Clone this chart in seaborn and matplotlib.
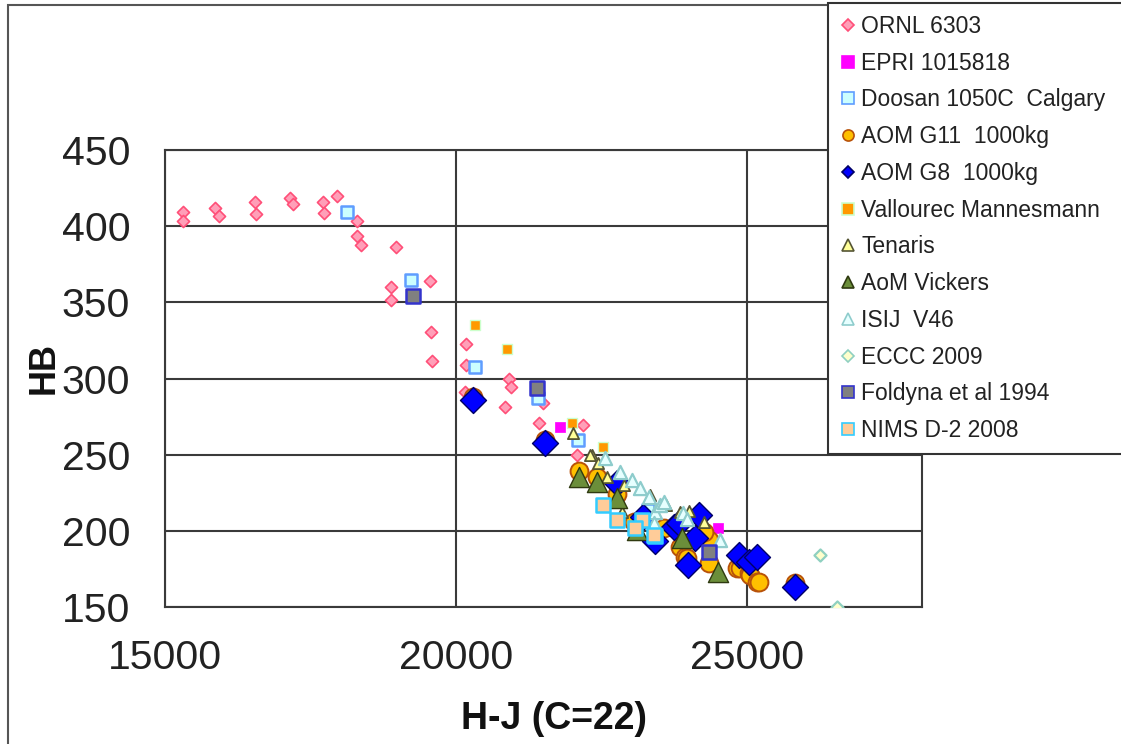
import matplotlib
matplotlib.use("Agg")
import matplotlib.pyplot as plt
import seaborn as sns
import pandas as pd
from matplotlib.lines import Line2D
from matplotlib.patches import Rectangle

sns.set_theme(style="white")
plt.rcParams["font.family"] = ["Liberation Sans", "DejaVu Sans"]

# ---------------- data (H-J parameter, Brinell hardness) ----------------
ornl_hj = [15314, 15314, 15859, 15928, 16546, 16563, 17148, 17194, 17709, 17732,
           17960, 18304, 18293, 18362, 18969, 19553, 18877, 18877, 19565, 19582,
           20171, 20171, 20154, 20910, 20939, 20841, 21497, 21425, 22176, 22070]
ornl_hb = [409.5, 403.4, 411.7, 406.7, 416.0, 408.0, 418.3, 414.5, 416.0, 408.5,
           419.8, 403.7, 393.8, 387.7, 386.5, 364.2, 359.9, 351.6, 330.3, 311.5,
           322.6, 308.8, 291.3, 300.0, 294.2, 281.5, 283.7, 270.5, 269.4, 249.7]

epri_hj = [21786, 24505]
epri_hb = [268.4, 201.6]

doosan_hj = [18122, 19221, 20326, 21411, 22101, 23300]
doosan_hb = [409.5, 364.6, 307.7, 287.0, 259.7, 214.0]

g11_hj = [20297, 21528, 22118, 22427, 22760, 23050, 23561, 23848, 23930, 23963,
          24334, 24345, 24248, 24822, 24880, 25021, 25050, 25165, 25193, 25823]
g11_hb = [288.0, 259.5, 239.0, 235.5, 224.0, 206.0, 201.6, 189.4, 183.0, 181.9,
          178.6, 194.0, 199.5, 175.4, 175.4, 172.0, 171.0, 166.7, 166.7, 165.8]

g8_hj = [20297, 21528, 22760, 23217, 23418, 23747, 23830, 24162, 24105, 23990,
         24850, 25021, 25165, 25823]
g8_hb = [285.8, 257.4, 231.3, 209.3, 193.4, 202.7, 205.0, 210.4, 195.0, 177.5,
         184.0, 179.8, 183.0, 163.4]

vall_hj = [20326, 20881, 21987, 22530]
vall_hb = [335.0, 319.3, 270.5, 255.3]

tenaris_hj = [22004, 22331, 22302, 22444, 22588, 22874, 22846, 23333, 23600, 23848,
              24000, 24248]
tenaris_hb = [264.5, 249.7, 249.7, 244.3, 235.6, 230.0, 212.6, 223.5, 217.0, 212.6,
              213.0, 206.0]

vickers_hj = [22118, 22427, 22760, 23100, 23877, 24505]
vickers_hb = [235.6, 232.3, 221.3, 200.5, 195.0, 173.2]

isij_hj = [22559, 22817, 23018, 23161, 23304, 23418, 23504, 23561, 23390, 23904,
           23963, 24536]
isij_hb = [247.6, 238.9, 233.3, 227.9, 222.4, 212.6, 217.0, 219.2, 205.0, 211.5,
           208.0, 194.0]

eccc_hj = [26253, 26540]
eccc_hb = [184.0, 150.2]

foldyna_hj = [19255, 21394, 24334]
foldyna_hb = [354.1, 293.5, 186.3]

nims_hj = [22530, 22770, 23190, 23075, 23418, 23390]
nims_hb = [217.0, 207.4, 207.0, 201.6, 196.5, 197.2]

labels = ["ORNL 6303", "EPRI 1015818", "Doosan 1050C  Calgary", "AOM G11  1000kg",
          "AOM G8  1000kg", "Vallourec Mannesmann", "Tenaris", "AoM Vickers",
          "ISIJ  V46", "ECCC 2009", "Foldyna et al 1994", "NIMS D-2 2008"]
x_ticks = [15000, 20000, 25000]
y_ticks = [150, 200, 250, 300, 350, 400, 450]

# ---------------- styles ----------------
series = [
    (ornl_hj, ornl_hb, "D", 38, "#ff9fb8", "#ff4f78", 1.2),
    (epri_hj, epri_hb, "s", 60, "#ff00ff", "#ff00ff", 0.5),
    (doosan_hj, doosan_hb, "s", 80, "#ccffff", "#5f9dff", 1.8),
    (g11_hj, g11_hb, "o", 165, "#ffc000", "#b8520a", 1.4),
    (g8_hj, g8_hb, "D", 175, "#0000ff", "#000066", 1.0),
    (vall_hj, vall_hb, "s", 58, "#ff9900", "#ccffcc", 1.0),
    (tenaris_hj, tenaris_hb, "^", 65, "#ffff99", "#555533", 1.3),
    (vickers_hj, vickers_hb, "^", 210, "#6b8e3a", "#2f3a10", 1.0),
    (isij_hj, isij_hb, "^", 90, "#e6ffff", "#8ecccc", 1.6),
    (eccc_hj, eccc_hb, "D", 38, "#ffffcc", "#8fd0c0", 1.6),
    (foldyna_hj, foldyna_hb, "s", 90, "#808080", "#3333cc", 1.8),
    (nims_hj, nims_hb, "s", 90, "#ffcc99", "#33ccff", 1.8),
]

W, H = 1121, 744
fig = plt.figure(figsize=(W / 100, H / 100), dpi=100)
fig.patch.set_facecolor("white")
ax = fig.add_axes([165 / W, 1 - 607 / H, (922 - 165) / W, (607 - 150) / H])

for i, (hx, hy, m, s, fc, ec, lw) in enumerate(series):
    df = pd.DataFrame({"HJ": hx, "HB": hy})
    sns.scatterplot(data=df, x="HJ", y="HB", ax=ax, marker=m, s=s, color=fc,
                    edgecolor=ec, linewidth=lw, zorder=3 + i, legend=False)

ax.set_xlim(15000, 28000)
ax.set_ylim(150, 450)
ax.set_xticks(x_ticks)
ax.set_yticks(y_ticks)
ax.grid(True, color="#3a3a3a", linewidth=1.5, zorder=1)
ax.set_axisbelow(True)
for sp in ax.spines.values():
    sp.set_visible(True)
    sp.set_color("#3a3a3a")
    sp.set_linewidth(1.5)
ax.tick_params(axis="both", direction="out", length=9, width=1.3, color="#3a3a3a",
               labelsize=29.5, labelcolor="#222222", pad=14)
ax.tick_params(axis="y", pad=16)
ax.tick_params(axis="x", pad=14)

ax.set_xlabel("H-J (C=22)", fontsize=27, fontweight="bold", color="#111111")
ax.xaxis.set_label_coords((554 - 165) / 757, -(701 - 607) / 457)
ax.set_ylabel("HB", fontsize=26, fontweight="bold", color="#111111")
ax.yaxis.set_label_coords((62 - 165) / 757, (607 - 368) / 457)

# outer chart-area frame
fig.patches.append(Rectangle((8 / W, -0.5), 2, (1 - 5 / H) + 0.5,
                             transform=fig.transFigure, fill=False,
                             edgecolor="#555555", linewidth=1.5, zorder=0))

handles = [Line2D([], [], linestyle="", marker=m,
                  markersize=(8 if m != "D" else 6.5),
                  markerfacecolor=fc, markeredgecolor=ec, markeredgewidth=1.2)
           for (_, _, m, _, fc, ec, _) in series]
leg = fig.legend(handles=handles, labels=labels, loc="upper left",
                 bbox_to_anchor=(828 / W, 1 - 3 / H, 0.35, 0),
                 bbox_transform=fig.transFigure, mode="expand",
                 fontsize=16.5, frameon=True, fancybox=False, framealpha=1,
                 edgecolor="#333333", borderpad=0.52, labelspacing=0.60,
                 handlelength=0.7, handletextpad=0.22, borderaxespad=0)
leg.get_frame().set_linewidth(1.5)
for t in leg.get_texts():
    t.set_color("#222222")

fig.savefig("out.png", dpi=100)
